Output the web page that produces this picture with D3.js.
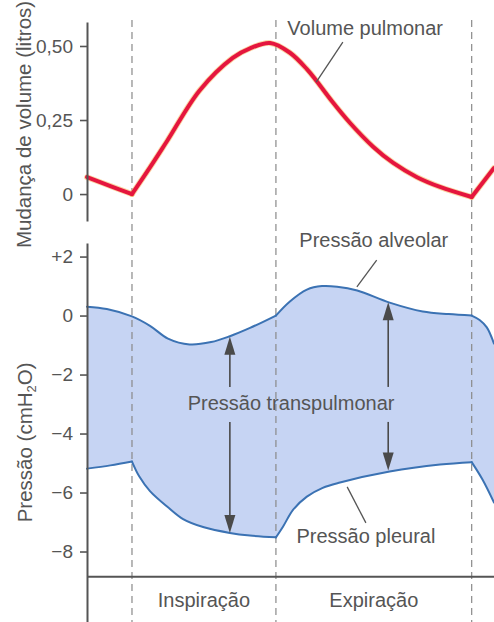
<!DOCTYPE html>
<html>
<head>
<meta charset="utf-8">
<script src="https://cdn.jsdelivr.net/npm/d3@7"></script>
<style>
  body { margin: 0; background: #fff; }
  svg { display: block; }
  text { font-family: "Liberation Sans", Arial, sans-serif; fill: #555; }
</style>
</head>
<body>
<svg id="chart" width="494" height="622"></svg>
<script>
// Breathing cycle phases (time in seconds)
const phaseBounds = [0, 2, 4.72];
const phaseLabels = ["Inspiração", "Expiração"];

// Axis ticks
const volumeTicks = [0, 0.25, 0.5];
const volumeTickLabels = ["0", "0,25", "0,50"];
const pressureTicks = [2, 0, -2, -4, -6, -8];
const pressureTickLabels = ["+2", "0", "−2", "−4", "−6", "−8"];

// Lung volume change (litres), one array per phase segment: [time, value]
const volumePre = [[-0.625, 0.057], [-0.3, 0.027], [0, 0]];
const volumeCycle = [[0, 0], [0.25, 0.09], [0.49, 0.18], [0.94, 0.35], [1.4, 0.46], [1.64, 0.492],
                     [1.92, 0.51], [2.19, 0.478], [2.43, 0.422], [2.57, 0.38], [2.79, 0.31],
                     [3.03, 0.24], [3.35, 0.16], [3.63, 0.105], [3.96, 0.057], [4.28, 0.024],
                     [4.72, -0.01]];
const volumeNext = [[4.72, -0.01], [5.03, 0.088]];

// Alveolar pressure (cmH2O)
const alveolarInsp = [[-0.625, 0.3], [-0.35, 0.22], [0, -0.03], [0.25, -0.35], [0.5, -0.78],
                      [0.8, -0.98], [1.1, -0.9], [1.36, -0.7], [1.64, -0.42], [2, 0]];
const alveolarExp = [[2, 0], [2.19, 0.47], [2.43, 0.88], [2.64, 1.0], [2.85, 0.98], [3.13, 0.85],
                     [3.58, 0.44], [4.04, 0.14], [4.4, 0.05], [4.72, 0]];
const alveolarNext = [[4.72, 0], [4.83, -0.15], [4.93, -0.4], [5.03, -0.95]];

// Pleural pressure (cmH2O)
const pleuralPre = [[-0.625, -5.19], [-0.3, -5.08], [0, -4.95]];
const pleuralInsp = [[0, -4.95], [0.1, -5.45], [0.25, -5.95], [0.5, -6.5], [0.71, -6.9], [1.0, -7.18],
                     [1.36, -7.37], [1.64, -7.46], [2, -7.52]];
const pleuralExp = [[2, -7.52], [2.1, -7.15], [2.24, -6.58], [2.43, -6.14], [2.65, -5.84],
                    [2.89, -5.66], [3.58, -5.29], [4.28, -5.05], [4.72, -4.97]];
const pleuralNext = [[4.72, -4.97], [4.87, -5.56], [5.03, -6.34]];

// Transpulmonary pressure arrows: [time, alveolar end, pleural end]
const transArrows = [[1.36, -0.72, -7.37], [3.56, 0.45, -5.25]];

const svg = d3.select("#chart");
const W = 494, H = 622;

const x = d3.scaleLinear().domain([-0.625, 5.03]).range([87, 494]);
const yV = d3.scaleLinear().domain([-0.091, 0.581]).range([221, 22]);
const yP = d3.scaleLinear().domain([-10.39, 2.46]).range([622, 243]);

const axisColor = "#555";
const tickFont = 19;
const labelFont = 20;
const baseP = -8.86;   // pressure level of the phase baseline
const curve = d3.curveCatmullRom.alpha(0.5);

// Fill between alveolar and pleural pressure curves
const alvSegs = [alveolarInsp, alveolarExp, alveolarNext];
const pleSegs = [pleuralPre, pleuralInsp, pleuralExp, pleuralNext];

const defs = svg.append("defs");
const clip = defs.append("clipPath").attr("id", "under-alveolar");
const areaBelow = d3.area().curve(curve)
  .x(d => x(d[0])).y0(yP(baseP)).y1(d => yP(d[1]));
const areaAbove = d3.area().curve(curve)
  .x(d => x(d[0])).y0(yP(2.3)).y1(d => yP(d[1]));
alvSegs.forEach(s => clip.append("path").attr("d", areaBelow(s)));

const fillG = svg.append("g").attr("clip-path", "url(#under-alveolar)");
pleSegs.forEach(s => fillG.append("path").attr("d", areaAbove(s))
  .attr("fill", "#c6d4f3").attr("stroke", "#c6d4f3").attr("stroke-width", 0.6));

// Phase boundaries
svg.append("g").selectAll("line").data(phaseBounds).join("line")
  .attr("x1", d => x(d)).attr("x2", d => x(d))
  .attr("y1", 20).attr("y2", H)
  .attr("stroke", "#8a8a8a").attr("stroke-width", 1.2)
  .attr("stroke-dasharray", "7,5");

// Curves
const volLine = d3.line().curve(curve).x(d => x(d[0])).y(d => yV(d[1]));
[volumePre, volumeCycle, volumeNext].forEach(s => {
  svg.append("path").attr("d", volLine(s)).attr("fill", "none")
    .attr("stroke", "#f6b35a").attr("stroke-opacity", 0.55).attr("stroke-width", 5.8)
    .attr("stroke-linecap", "round").attr("stroke-linejoin", "round");
});
[volumePre, volumeCycle, volumeNext].forEach(s => {
  svg.append("path").attr("d", volLine(s)).attr("fill", "none")
    .attr("stroke", "#e5163e").attr("stroke-width", 4)
    .attr("stroke-linecap", "round").attr("stroke-linejoin", "round");
});

const pLine = d3.line().curve(curve).x(d => x(d[0])).y(d => yP(d[1]));
[...alvSegs, ...pleSegs].forEach(s => {
  svg.append("path").attr("d", pLine(s)).attr("fill", "none")
    .attr("stroke", "#3b72b3").attr("stroke-width", 2)
    .attr("stroke-linecap", "round").attr("stroke-linejoin", "round");
});

// Axes
const volAxis = d3.axisLeft(yV).tickValues(volumeTicks)
  .tickFormat((d, i) => volumeTickLabels[i]).tickSize(7).tickSizeOuter(0).tickPadding(7);
const gV = svg.append("g").attr("transform", "translate(87,0)").call(volAxis);

const pAxis = d3.axisLeft(yP).tickValues(pressureTicks)
  .tickFormat((d, i) => pressureTickLabels[i]).tickSize(7).tickSizeOuter(0).tickPadding(7);
const gP = svg.append("g").attr("transform", "translate(87,0)").call(pAxis);

[gV, gP].forEach(g => {
  g.select(".domain").attr("stroke", axisColor).attr("stroke-width", 2);
  g.selectAll(".tick line").attr("stroke", axisColor).attr("stroke-width", 1.6);
  g.selectAll(".tick text").attr("fill", "#555").attr("font-size", tickFont)
    .attr("font-family", "Liberation Sans, Arial, sans-serif");
});

// Baseline separating the phase labels
svg.append("line").attr("x1", 87).attr("x2", W)
  .attr("y1", yP(baseP)).attr("y2", yP(baseP))
  .attr("stroke", axisColor).attr("stroke-width", 2);

// Axis titles
svg.append("text").attr("transform", `translate(31,${yV(0.235)}) rotate(-90)`)
  .attr("text-anchor", "middle").attr("font-size", 20.5)
  .text("Mudança de volume (litros)");
const pt = svg.append("text").attr("transform", `translate(32,${yP(-4.3)}) rotate(-90)`)
  .attr("text-anchor", "middle").attr("font-size", 20.5);
pt.append("tspan").text("Pressão (cmH");
pt.append("tspan").attr("font-size", 13).attr("dy", 4).text("2");
pt.append("tspan").attr("dy", -4).text("O)");

// Phase labels
svg.append("g").selectAll("text").data(phaseLabels).join("text")
  .attr("x", (d, i) => x((phaseBounds[i] + phaseBounds[i + 1]) / 2))
  .attr("y", yP(-9.88))
  .attr("text-anchor", "middle").attr("font-size", labelFont)
  .text(d => d);

// Annotations
const annot = [
  { text: "Volume pulmonar", t: 3.24, y: yV(0.537), lead: [[2.93, yV(0.513)], [2.56, yV(0.378)]] },
  { text: "Pressão alveolar", t: 3.36, y: yP(2.32), lead: [[3.40, yP(1.88)], [3.125, yP(0.97)]] },
  { text: "Pressão pleural", t: 3.25, y: yP(-7.71), lead: [[3.25, yP(-7.03)], [2.99, yP(-5.81)]] }
];
annot.forEach(a => {
  svg.append("text").attr("x", x(a.t)).attr("y", a.y)
    .attr("text-anchor", "middle").attr("font-size", labelFont).text(a.text);
  svg.append("line")
    .attr("x1", x(a.lead[0][0])).attr("y1", a.lead[0][1])
    .attr("x2", x(a.lead[1][0])).attr("y2", a.lead[1][1])
    .attr("stroke", "#555").attr("stroke-width", 1.3);
});

// Transpulmonary pressure label and double-headed arrows
const tpY = yP(-3.2);
svg.append("text").attr("x", x(2.21)).attr("y", tpY)
  .attr("text-anchor", "middle").attr("font-size", labelFont).text("Pressão transpulmonar");

const headLen = 18, headHalf = 5.5;
transArrows.forEach(([t, top, bottom]) => {
  const ax = x(t), yTop = yP(top), yBot = yP(bottom);
  const g = svg.append("g").attr("stroke", "#4a4a4a").attr("fill", "#4a4a4a");
  g.append("line").attr("x1", ax).attr("x2", ax)
    .attr("y1", yTop + headLen - 1).attr("y2", tpY - 23).attr("stroke-width", 1.6);
  g.append("line").attr("x1", ax).attr("x2", ax)
    .attr("y1", tpY + 12).attr("y2", yBot - headLen + 1).attr("stroke-width", 1.6);
  g.append("path").attr("stroke", "none")
    .attr("d", `M${ax},${yTop}L${ax - headHalf},${yTop + headLen}L${ax + headHalf},${yTop + headLen}Z`);
  g.append("path").attr("stroke", "none")
    .attr("d", `M${ax},${yBot}L${ax - headHalf},${yBot - headLen}L${ax + headHalf},${yBot - headLen}Z`);
});
</script>
</body>
</html>
